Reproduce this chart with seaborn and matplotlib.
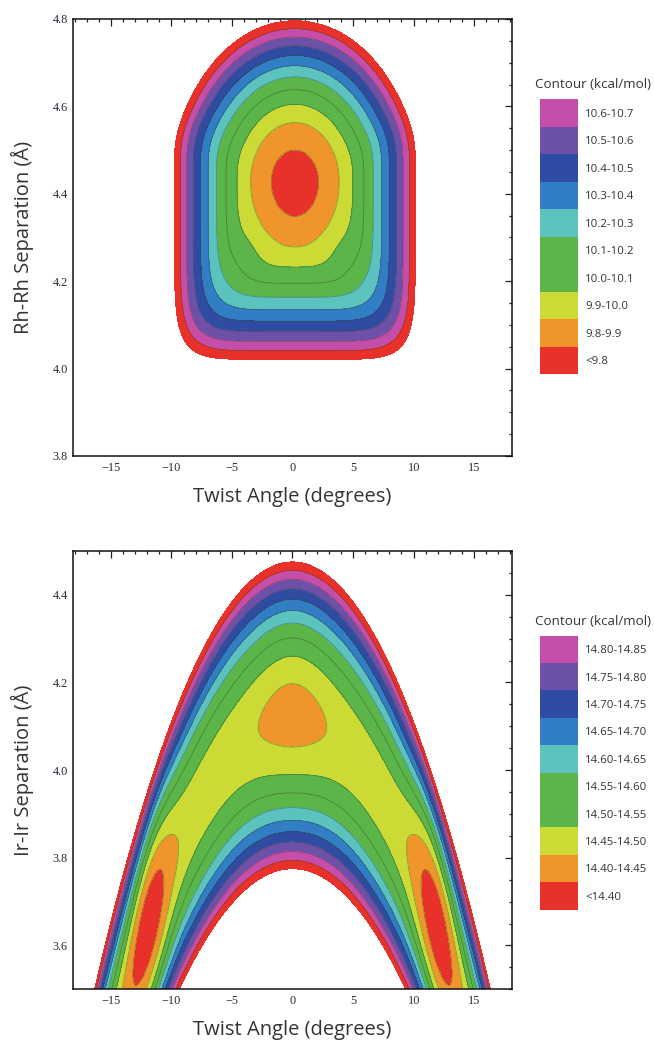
import numpy as np
import pandas as pd
import matplotlib
matplotlib.use("Agg")
import matplotlib.pyplot as plt
from matplotlib.colors import ListedColormap
from matplotlib.ticker import MultipleLocator, FormatStrFormatter
import seaborn as sns

# ------------------------------------------------------------------ data
# band colours, lowest energy band first
band_colors = ['#e8312a', '#f0952b', '#cbda35', '#5bb548', '#5bb548',
               '#5cc2bd', '#327ec4', '#2e4ca1', '#6d51a9', '#c64eab']

# Rh-Rh surface (kcal/mol)
rh_levels = [9.8, 9.9, 10.0, 10.1, 10.2, 10.3, 10.4, 10.5, 10.6, 10.7, 10.8]
rh_labels = ['10.6-10.7', '10.5-10.6', '10.4-10.5', '10.3-10.4', '10.2-10.3',
             '10.1-10.2', '10.0-10.1', '9.9-10.0', '9.8-9.9', '<9.8']
rh_min_energy = 9.76        # energy at the minimum
rh_min_angle = 0.2          # twist angle of the minimum (deg)
rh_min_sep = 4.428          # Rh-Rh separation of the minimum (A)
rh_half_width = 9.95        # half width of the 10.8 contour (deg)
rh_half_height_up = 0.368   # 10.8 contour above the minimum (A)
rh_half_height_down = 0.407 # 10.8 contour below the minimum (A)
rh_rise = 1.04              # energy rise from minimum to the 10.8 contour
rh_bottom_squareness = 5.0  # extra squareness of the outer contours (lower half)

# Ir-Ir surface (kcal/mol)
ir_levels = [14.40, 14.45, 14.50, 14.55, 14.60, 14.65, 14.70, 14.75, 14.80, 14.85, 14.90]
ir_labels = ['14.80-14.85', '14.75-14.80', '14.70-14.75', '14.65-14.70', '14.60-14.65',
             '14.55-14.60', '14.50-14.55', '14.45-14.50', '14.40-14.45', '<14.40']
ir_floor_base = 14.47       # valley floor energy between the minima
ir_center_dip = 0.04        # depth of the central (0 deg) minimum
ir_center_dip_width = 2.4   # deg
ir_side_angle = 11.9        # deg, side minima at +/- this angle
ir_side_depth = 0.11
ir_side_width = 1.35        # deg
ir_valley_sep0 = 4.125      # valley separation at 0 deg (A)
ir_valley_curv = 0.0034     # A / deg^2
ir_half_height0 = 0.35      # half height of the 14.90 contour at 0 deg (A)
ir_half_height_curv = 0.00025
ir_edge_energy = 14.90

x_ticks = [-15, -10, -5, 0, 5, 10, 15]
x_limits = (-18.1, 18.1)
rh_ylim = (3.8, 4.8)
ir_ylim = (3.5, 4.5)

# ------------------------------------------------------------------ fields
theta = np.linspace(x_limits[0], x_limits[1], 900)

r_rh = np.linspace(rh_ylim[0], rh_ylim[1], 900)
T1, R1 = np.meshgrid(theta, r_rh)
xx = np.abs(T1 - rh_min_angle) / rh_half_width
dd = R1 - rh_min_sep
yy = np.abs(np.where(dd > 0, dd / rh_half_height_up, dd / rh_half_height_down))
w_bottom = 1.0 / (1.0 + np.exp(np.where(dd > 0, yy, -yy) / 0.12))
proxy = (xx ** 6 + yy ** 6) ** (1.0 / 6.0)
ramp = np.clip((proxy - 0.3) / 0.6, 0, 1)
ramp = ramp * ramp * (3 - 2 * ramp)
nexp = 2.0 + w_bottom * rh_bottom_squareness * ramp
rho = (xx ** nexp + yy ** nexp) ** (1.0 / nexp)
E_rh = rh_min_energy + rh_rise * rho ** 2

r_ir = np.linspace(ir_ylim[0], ir_ylim[1], 900)
T2, R2 = np.meshgrid(theta, r_ir)
floor = (ir_floor_base
         - ir_center_dip * np.exp(-T2 ** 2 / (2 * ir_center_dip_width ** 2))
         - ir_side_depth * (np.exp(-(T2 - ir_side_angle) ** 2 / (2 * ir_side_width ** 2))
                            + np.exp(-(T2 + ir_side_angle) ** 2 / (2 * ir_side_width ** 2))))
rc = ir_valley_sep0 - ir_valley_curv * T2 ** 2
hh = ir_half_height0 - ir_half_height_curv * T2 ** 2
E_ir = floor + (ir_edge_energy - floor) * ((R2 - rc) / hh) ** 2

# ------------------------------------------------------------------ figure
sns.set_style("white")
W, H = 654, 1047
fig = plt.figure(figsize=(W / 100, H / 100), dpi=100)

tick_font = dict(family='Liberation Serif', size=8.8)
label_font = dict(family='Open Sans', size=14.5)
fill_colors = band_colors + [band_colors[0]]
line_color = '#2f4a2a'

def px_axes(left, top, right, bottom):
    return fig.add_axes([left / W, 1 - bottom / H, (right - left) / W, (bottom - top) / H])

def style_axes(ax, ylim, ylabel, top, bottom):
    ax.set_xlim(*x_limits)
    ax.set_ylim(*ylim)
    ax.set_xticks(x_ticks)
    ax.xaxis.set_minor_locator(MultipleLocator(1))
    ax.yaxis.set_major_locator(MultipleLocator(0.2))
    ax.yaxis.set_minor_locator(MultipleLocator(0.05))
    ax.yaxis.set_major_formatter(FormatStrFormatter('%.1f'))
    ax.tick_params(which='both', direction='in', top=True, right=True, width=0.9,
                   colors='#222222', labelcolor='#2a2a38', pad=4)
    ax.tick_params(which='major', length=5)
    ax.tick_params(which='minor', length=2.5)
    for lab in ax.get_xticklabels() + ax.get_yticklabels():
        lab.set_fontfamily(tick_font['family'])
        lab.set_fontsize(tick_font['size'])
    for s in ax.spines.values():
        s.set_visible(True)
        s.set_color('#111111')
        s.set_linewidth(1.1)
    ax.set_xlabel('Twist Angle (degrees)', color='#333333', **label_font)
    ax.set_ylabel(ylabel, color='#333333', **label_font)
    hpx = bottom - top
    ax.xaxis.set_label_coords(0.5, -41 / hpx)
    ax.xaxis.label.set_va('center')
    ax.yaxis.set_label_coords(-(73.3 - 22) / 438.4, 0.5)
    ax.yaxis.label.set_va('center')

def legend(left, top, right, bottom, labels, title_y):
    lax = px_axes(left, top, right, bottom)
    vals = pd.DataFrame({'band': np.arange(len(labels))[::-1]}, index=labels)
    sns.heatmap(vals, ax=lax, cmap=ListedColormap(band_colors), vmin=-0.5,
                vmax=len(band_colors) - 0.5, cbar=False, xticklabels=False,
                yticklabels=True, linewidths=0)
    lax.yaxis.tick_right()
    lax.tick_params(axis='y', length=0, pad=5, rotation=0)
    for lab in lax.get_yticklabels():
        lab.set_fontfamily('Open Sans')
        lab.set_fontsize(8.2)
        lab.set_color('#333333')
    lax.set_ylabel('')
    lax.set_xlabel('')
    fig.text(535 / W, 1 - title_y / H, 'Contour (kcal/mol)', family='Open Sans',
             size=9.6, color='#333333', va='center', ha='left')

# top panel
ax1 = px_axes(73.3, 19, 511.7, 456)
ax1.contourf(T1, R1, E_rh, levels=[rh_min_energy - 1] + rh_levels, colors=fill_colors)
ax1.contour(T1, R1, E_rh, levels=rh_levels[:-1], colors=line_color, linewidths=0.6, alpha=0.45)
style_axes(ax1, rh_ylim, 'Rh-Rh Separation (Å)', 19, 456)
legend(540, 99, 578, 374, rh_labels, 84.5)

# bottom panel
ax2 = px_axes(73.3, 551, 511.7, 989.3)
ax2.contourf(T2, R2, E_ir, levels=[ir_levels[0] - 1] + ir_levels, colors=fill_colors)
ax2.contour(T2, R2, E_ir, levels=ir_levels[:-1], colors=line_color, linewidths=0.6, alpha=0.45)
style_axes(ax2, ir_ylim, 'Ir-Ir Separation (Å)', 551, 989.3)
legend(540, 635.5, 578, 909.6, ir_labels, 621.8)

fig.savefig('out.png', dpi=100, facecolor='white')
